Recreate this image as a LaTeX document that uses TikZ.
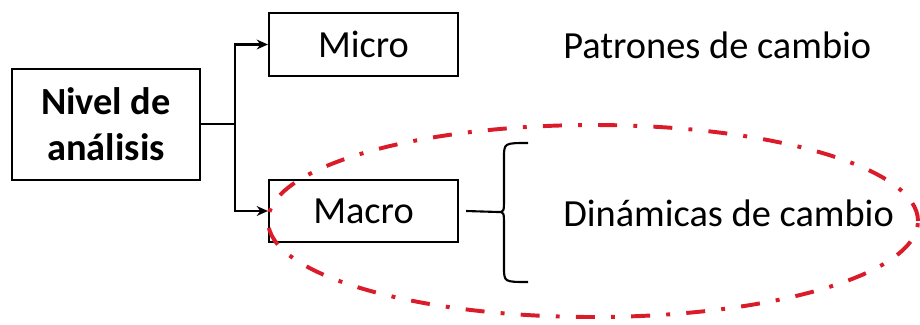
\documentclass[tikz,border=0pt]{standalone}
\usepackage{fontspec}
\setmainfont{Carlito}
\usetikzlibrary{arrows.meta}
\definecolor{ellred}{RGB}{218,28,42}

\begin{document}
\begin{tikzpicture}[
    levelbox/.style={draw, line width=1.5pt, minimum width=4.725cm, minimum height=1.575cm},
    conn/.style={line width=1.5pt},
    arr/.style={conn, -{Stealth[length=8pt, width=7pt]}},
    bigtext/.style={font=\fontsize{27.3}{33}\selectfont}
  ]
  \useasboundingbox (0cm,0cm) rectangle (23cm,-8.1cm);
  \node[levelbox, minimum width=4.7cm, minimum height=2.775cm, align=center,
        font=\fontsize{27.3}{33}\selectfont\bfseries] (nivel) at (2.65cm,-3.11cm) {Nivel de\\an\'alisis};
  \node[levelbox, bigtext] (micro) at (9.0875cm,-1.1125cm) {Micro};
  \node[levelbox, bigtext, minimum height=1.55cm] (macro) at (9.0875cm,-5.275cm) {Macro};
  \coordinate (split) at (5.875cm,-3.11cm);
  \draw[conn] (nivel.east) -- (split);
  \draw[arr] (split) |- (micro.west);
  \draw[arr] (split) |- (macro.west);
  % brace
  \coordinate (tip) at (12.45cm,-5.3cm);
  \draw[conn] ([xshift=0.175cm]macro.east) -- (tip);
  \draw[conn] (13.2cm,-3.575cm) .. controls (12.6cm,-3.575cm) .. (12.6cm,-3.95cm)
    -- (12.6cm,-4.95cm) .. controls (12.6cm,-5.3cm) .. (tip)
    .. controls (12.6cm,-5.3cm) .. (12.6cm,-5.65cm)
    -- (12.6cm,-6.675cm) .. controls (12.6cm,-7.05cm) .. (13.2cm,-7.05cm);
  \node[bigtext, anchor=west, inner sep=0pt] (patrones) at (14.075cm,-1.125cm) {Patrones de cambio};
  \node[bigtext, anchor=west, inner sep=0pt] (dinamicas) at (14.075cm,-5.325cm) {Din\'amicas de cambio};
  % highlight
  \draw[ellred, line width=2.8pt, dash pattern=on 13.5pt off 11.5pt on 2.8pt off 11.5pt]
    (14.825cm,-5.525cm) ellipse (8.125cm and 2.4cm);
\end{tikzpicture}
\end{document}
